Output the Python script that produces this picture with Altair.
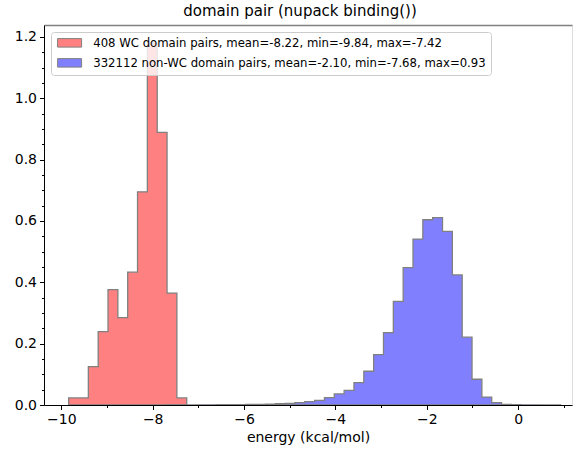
import altair as alt
import numpy as np
import pandas as pd

# ---- data ----
series_labels = [
    "408 WC domain pairs, mean=-8.22, min=-9.84, max=-7.42",
    "332112 non-WC domain pairs, mean=-2.10, min=-7.68, max=0.93",
]
series_colors = ["#ff8080", "#8080ff"]

bin_min, bin_max, n_bins = -9.84, 0.93, 50

wc_first_bin = 0
wc_density = [0.023, 0.023, 0.125, 0.239, 0.376, 0.285, 0.433, 0.695, 1.18,
              0.889, 0.365, 0.023]

nonwc_first_bin = 10
nonwc_density = [0.0002, 0.0003, 0.0004, 0.0005, 0.0006, 0.0008, 0.001, 0.0012,
                 0.0016, 0.002, 0.003, 0.004, 0.005, 0.0076, 0.011, 0.015,
                 0.024, 0.036, 0.048, 0.073, 0.110, 0.164, 0.236, 0.338,
                 0.448, 0.541, 0.604, 0.611, 0.566, 0.424, 0.221, 0.084,
                 0.026, 0.0076, 0.002, 0.001, 0.0007, 0.0005, 0.0003, 0.0002]

x_tick_values = [-10.0, -9.5, -9.0, -8.5, -8.0, -7.5, -7.0, -6.5, -6.0, -5.5,
                 -5.0, -4.5, -4.0, -3.5, -3.0, -2.5, -2.0, -1.5, -1.0, -0.5,
                 0.0, 0.5, 1.0]
y_tick_values = [0.0, 0.05, 0.1, 0.15, 0.2, 0.25, 0.3, 0.35, 0.4, 0.45, 0.5,
                 0.55, 0.6, 0.65, 0.7, 0.75, 0.8, 0.85, 0.9, 0.95, 1.0, 1.05,
                 1.1, 1.15, 1.2]

title_text = "domain pair (nupack binding())"
x_title = "energy (kcal/mol)"

# ---- build table ----
edges = np.linspace(bin_min, bin_max, n_bins + 1)
rows = []
for label, first, dens in [(series_labels[0], wc_first_bin, wc_density),
                           (series_labels[1], nonwc_first_bin, nonwc_density)]:
    for k, h in enumerate(dens):
        rows.append({"series": label, "x": float(edges[first + k]), "h": h})
    rows.append({"series": label, "x": float(edges[first + len(dens)]), "h": dens[-1]})
df = pd.DataFrame(rows)

FONT = "DejaVu Sans"
xs = alt.Scale(domain=[-10.38, 1.18], nice=False, zero=False)
ys = alt.Scale(domain=[0, 1.239], nice=False, zero=False)

x_axis = alt.Axis(
    values=x_tick_values,
    labelExpr="(datum.value % 2 == 0) ? datum.label : ''",
    format="d",
    tickSize={"condition": {"test": "datum.value % 2 == 0", "value": 4.5}, "value": 2.5},
    tickColor="black", tickWidth=1,
    domainColor="black", domainWidth=1,
    labelColor="black", labelFont=FONT, labelFontSize=14, labelPadding=3,
    labelOverlap=False, labelFlush=False,
    title=x_title, titleFont=FONT, titleFontSize=14, titleFontWeight="normal",
    titleColor="black", titlePadding=4,
    grid=False, zindex=1,
)
y_axis = alt.Axis(
    values=y_tick_values,
    labelExpr="abs(datum.value*5 - round(datum.value*5)) < 1e-6 ? datum.label : ''",
    format=".1f",
    tickSize={"condition": {"test": "abs(datum.value*5 - round(datum.value*5)) < 1e-6",
                            "value": 4.5}, "value": 2.5},
    tickColor="black", tickWidth=1,
    domainColor="black", domainWidth=1,
    labelColor="black", labelFont=FONT, labelFontSize=14, labelPadding=3,
    labelOverlap=False, labelFlush=False,
    title=None, grid=False, zindex=1,
)

legend = alt.Legend(
    title=None, orient="none", legendX=7, legendY=7, zindex=2,
    fillColor="rgba(255,255,255,0.8)", strokeColor="#cccccc", cornerRadius=3,
    padding=5, rowPadding=6,
    labelFont=FONT, labelFontSize=11.7, labelColor="black", labelLimit=0,
    labelOffset=25.5,
    symbolType="M-1,-1H4.647V1H-1Z", symbolSize=72.25,
    symbolStrokeColor="#808080", symbolStrokeWidth=1, symbolOpacity=1,
)

fill = alt.Chart(df).mark_area(
    interpolate="step-after", stroke="#808080", strokeWidth=1.3, opacity=1
).encode(
    x=alt.X("x:Q", scale=xs, axis=x_axis),
    y=alt.Y("h:Q", scale=ys, axis=y_axis, stack=None),
    color=alt.Color("series:N", sort=series_labels,
                    scale=alt.Scale(domain=series_labels, range=series_colors),
                    legend=legend),
)

top_spine = alt.Chart(df).mark_point(opacity=0).encode(
    x=alt.X("x:Q", scale=xs,
            axis=alt.Axis(orient="top", labels=False, ticks=False, title=None,
                          grid=False, domainColor="#808080", domainWidth=1.5)),
    y=alt.Y("h:Q", scale=ys, axis=None),
)

chart = alt.layer(fill, top_spine).resolve_axis(
    x="independent", y="independent"
).properties(
    width=528, height=380,
    autosize=alt.AutoSizeParams(type="none"),
    padding={"left": 44, "top": 25, "right": 1, "bottom": 45},
    title=alt.TitleParams(text=title_text, font=FONT, fontSize=15,
                          fontWeight="normal", color="black", anchor="middle",
                          offset=6, dx=-8),
).configure_view(stroke=None).configure(background="white")

chart.save("out.html", embed_options={"renderer": "svg", "actions": False})
